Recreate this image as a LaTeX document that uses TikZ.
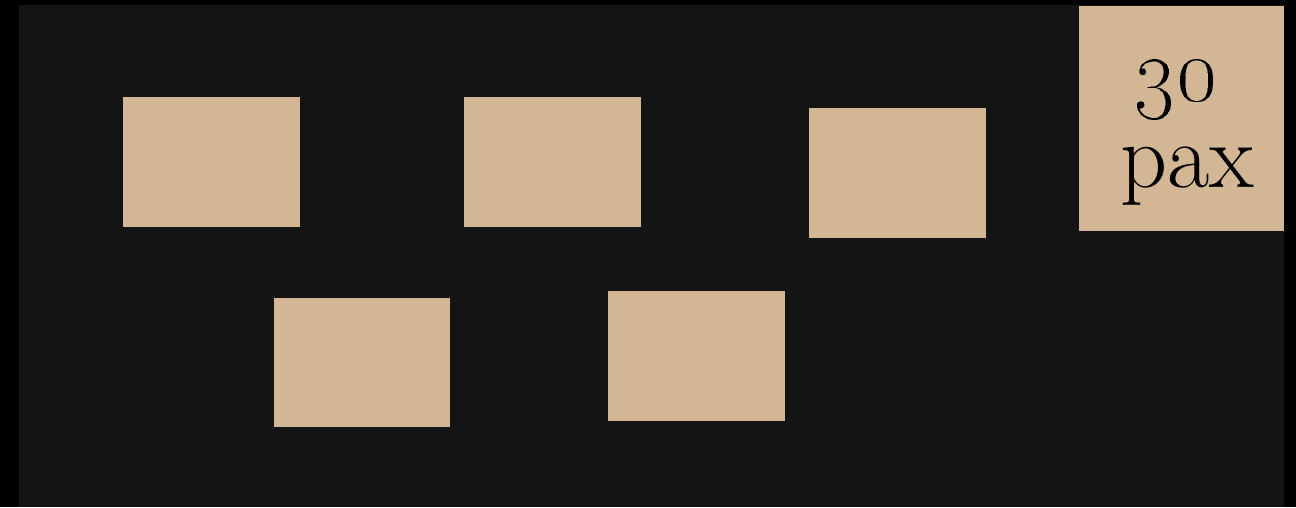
\documentclass[tikz,border=0pt]{standalone}
\usepackage{tikz}
\usetikzlibrary{positioning}
\definecolor{backdrop}{HTML}{000000}
\definecolor{floor}{HTML}{141414}
\definecolor{sand}{HTML}{D3B794}
\tikzset{
  tablebox/.style={fill=sand,draw=none,anchor=north west,inner sep=0pt,
    minimum width=177pt,minimum height=130pt},
  capbox/.style={fill=sand,draw=none,anchor=north west,inner sep=0pt,
    minimum width=205pt,minimum height=225pt},
  captext/.style={anchor=base,text=black,inner sep=0pt,
    font=\fontsize{92}{79}\selectfont},
  capdigits/.style={anchor=base,text=black,inner sep=0pt,scale=3.7,
    font=\fontsize{24.88}{30}\selectfont}
}
\begin{document}
\begin{tikzpicture}[x=1pt,y=-1pt]
  \useasboundingbox (0,0) rectangle (1296,507);
  \fill[backdrop] (0,0) rectangle (1296,507);
  \fill[floor] (19,5) rectangle (1284,507);
  % tables, upper row
  \node[tablebox] (t1) at (123,97) {};
  \node[tablebox] (t2) at (464,97) {};
  \node[tablebox] (t3) at (809,108) {};
  % tables, lower row
  \node[tablebox,minimum width=176pt,minimum height=129pt] (t4) at (274,298) {};
  \node[tablebox] (t5) at (608,291) {};
  % capacity label
  \node[capbox] (cap) at (1079,6) {};
  \node[capdigits] (capnum) at (1176,100) {\oldstylenums{30}};
  \node[captext] (capunit) at (1187,187) {pax};
\end{tikzpicture}
\end{document}
